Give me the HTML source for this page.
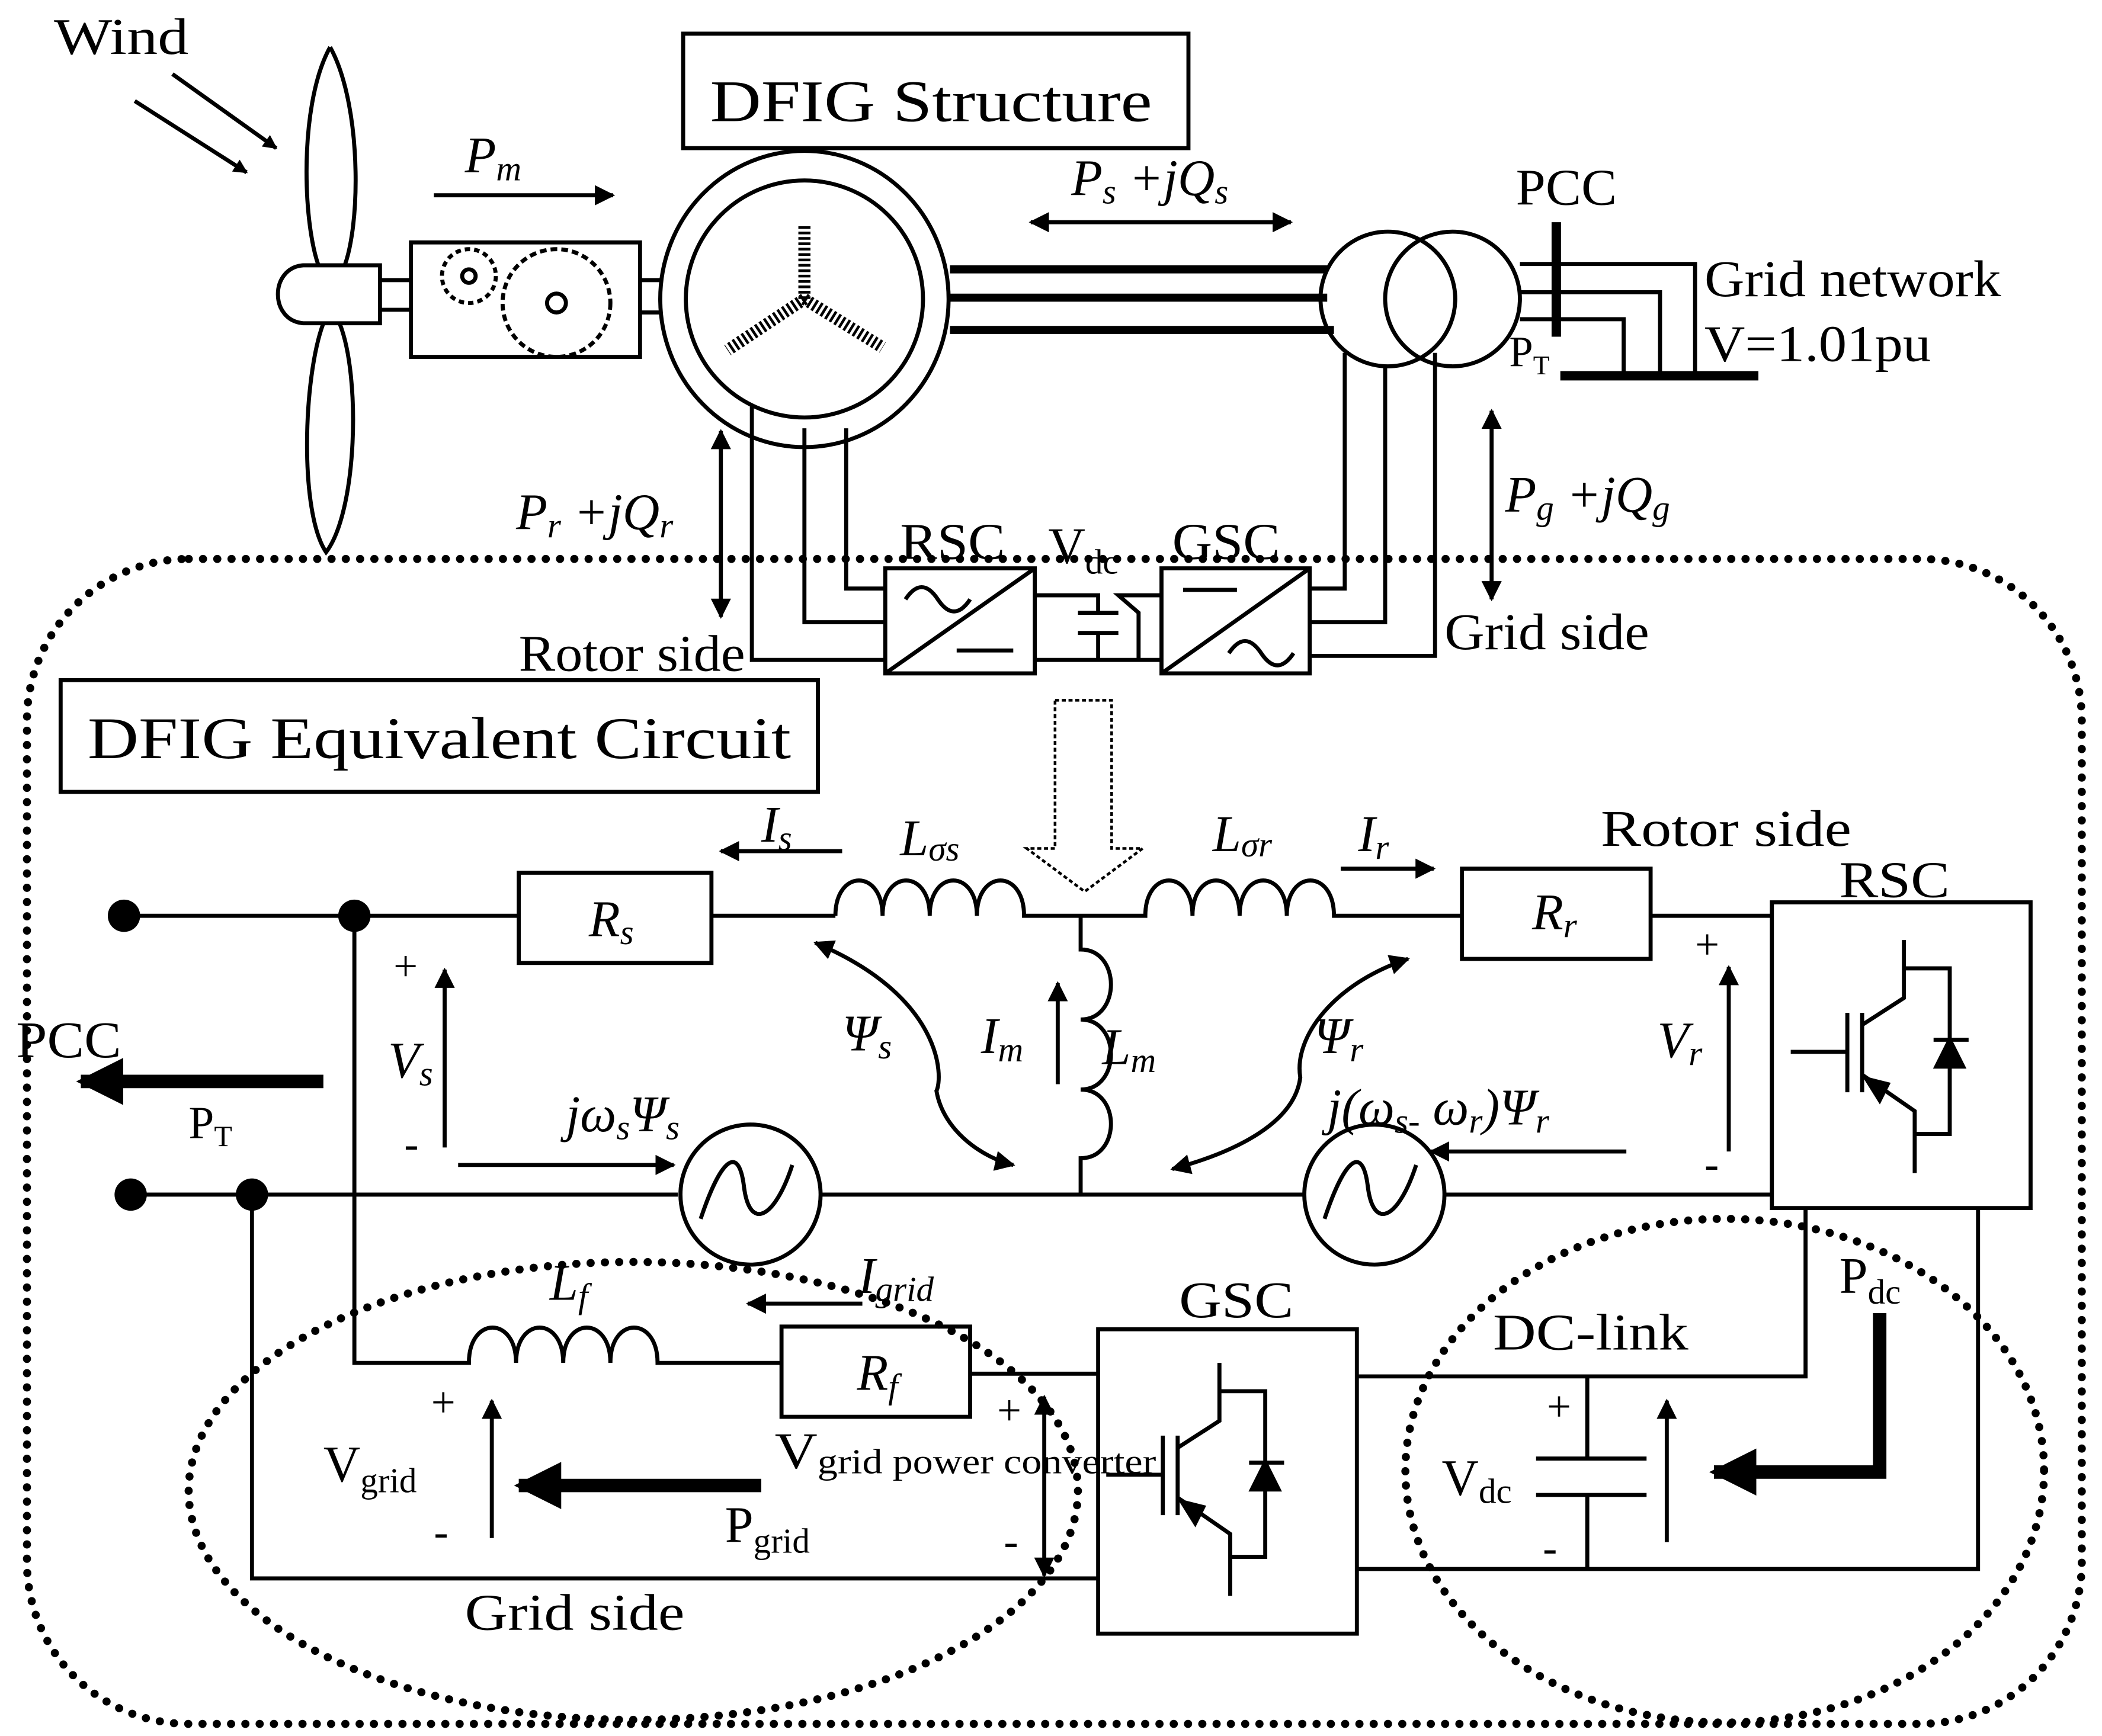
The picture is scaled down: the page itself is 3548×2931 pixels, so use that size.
<!DOCTYPE html>
<html><head><meta charset="utf-8"><style>
html,body{margin:0;padding:0;background:#fff}
svg{display:block}
text{font-family:"Liberation Serif","Times New Roman",serif;fill:#000}
.i{font-style:italic}
</style></head><body>
<svg width="3548" height="2931" viewBox="0 0 1560 1289" preserveAspectRatio="none" xmlns="http://www.w3.org/2000/svg">
<defs>
<marker id="a" viewBox="0 0 10 10" refX="9" refY="5" markerWidth="5" markerHeight="5" orient="auto-start-reverse"><path d="M0,0 L10,5 L0,10 z"/></marker>
<marker id="b" viewBox="0 0 10 10" refX="9" refY="5" markerWidth="3.5" markerHeight="3.5" orient="auto-start-reverse"><path d="M0,0 L10,5 L0,10 z"/></marker>
<g id="igbt" stroke="#000" stroke-width="3" fill="none">
<path d="M-42,0 H0 M0,-29 V30 M11,-29 V30 M11,-20 L42,-40 V-83 M42,-62 H76 V61 H50 M11,17 L50,44 V90 M64,-9 H90"/>
<path d="M66,11 L86,11 L76,-9 z" fill="#000"/>
<path d="M14,20 L30,24 L24,36 z" fill="#000"/>
</g>
</defs>
<g stroke="#000" fill="none" stroke-width="3">
<line x1="128" y1="55" x2="205" y2="110" marker-end="url(#b)"/>
<line x1="100" y1="75" x2="183" y2="128" marker-end="url(#b)"/>
<path d="M245,35 C220,80 225,180 240,205 M245,35 C270,80 268,180 252,205"/>
<path d="M240,240 C225,280 222,380 242,410 C265,380 268,280 252,240"/>
<path d="M225,197 H282 V240 H225 C200,238 200,199 225,197 z" fill="#fff"/>
<path d="M282,208 H305 M282,230 H305"/>
<rect x="305" y="180" width="170" height="85"/>
<circle cx="348" cy="205" r="20" stroke-dasharray="4 3"/><circle cx="348" cy="205" r="5"/>
<circle cx="413" cy="225" r="40" stroke-dasharray="5 3"/><circle cx="413" cy="225" r="7"/>
<path d="M475,208 H490 M475,232 H490"/>
<ellipse cx="597" cy="222" rx="107" ry="110"/>
<circle cx="597" cy="222" r="88"/>
<path d="M597,168 V222 M597,222 L540,260 M597,222 L655,258" stroke-width="9" stroke-dasharray="2 2"/>
<path d="M705,200 H985 M705,221 H985 M705,245 H990" stroke-width="6"/>
<circle cx="1030" cy="222" r="50"/><circle cx="1078" cy="222" r="50"/>
<path d="M1128,196 H1258 V280 M1128,217 H1232 V280 M1128,237 H1205 V280"/>
<path d="M1155,165 V250" stroke-width="7"/>
<path d="M1158,279 H1305" stroke-width="7"/>
<rect x="507" y="25" width="375" height="85"/>
<line x1="322" y1="145" x2="455" y2="145" marker-end="url(#a)"/>
<line x1="765" y1="165" x2="958" y2="165" marker-start="url(#a)" marker-end="url(#a)"/>
<path d="M558,300 V490 H657 M597,318 V462 H657 M628,318 V437 H657"/>
<path d="M998,262 V437 H972 M1028,272 V462 H972 M1065,262 V487 H972"/>
<rect x="657" y="422" width="111" height="78"/><path d="M657,500 L768,422 M672,445 q12,-18 24,0 t24,0 M710,483 H752"/>
<rect x="862" y="422" width="110" height="78"/><path d="M862,500 L972,422 M878,438 H918 M912,485 q12,-18 24,0 t24,0"/>
<path d="M768,442 H815 V455 M815,470 V490 H768 M815,490 H862 M862,442 H830 L845,455 V490 M800,455 H830 M800,470 H830"/>
<line x1="535" y1="320" x2="535" y2="458" marker-start="url(#a)" marker-end="url(#a)"/>
<line x1="1107" y1="305" x2="1107" y2="445" marker-start="url(#a)" marker-end="url(#a)"/>
<rect x="20" y="415" width="1525" height="865" rx="120" stroke-width="6" stroke-dasharray="0.1 10.5" stroke-linecap="round"/>
<rect x="45" y="505" width="562" height="83"/>
<path d="M783,520 H825 V630 H848 L805,662 L762,630 H783 z" stroke-width="2" stroke-dasharray="3 2"/>
<path d="M92,680 H385 M528,680 H620 M620,680 c0,-35 35,-35 35,0 c0,-35 35,-35 35,0 c0,-35 35,-35 35,0 c0,-35 35,-35 35,0 H850 c0,-35 35,-35 35,0 c0,-35 35,-35 35,0 c0,-35 35,-35 35,0 c0,-35 35,-35 35,0 H1085 M1225,680 H1315"/>
<rect x="385" y="648" width="143" height="67"/>
<rect x="1085" y="645" width="140" height="67"/>
<path d="M802,680 V705 c30,0 30,52 0,52 c30,0 30,52 0,52 c30,0 30,51 0,51 V887"/>
<path d="M97,887 H503 M610,887 H967 M1072,887 H1315"/>
<circle cx="557" cy="887" r="52"/><path d="M520,905 C535,860 548,850 552,880 C556,915 575,905 588,865"/>
<circle cx="1020" cy="887" r="52"/><path d="M983,905 C998,860 1011,850 1015,880 C1019,915 1038,905 1051,865"/>
<rect x="1315" y="670" width="192" height="227"/>
<line x1="785" y1="805" x2="785" y2="730" marker-end="url(#a)"/>
<path d="M605,700 C700,740 700,800 695,810 C700,840 730,860 752,865" marker-start="url(#a)" marker-end="url(#a)"/>
<path d="M1045,712 C990,730 960,770 965,800 C960,840 900,860 870,868" marker-start="url(#a)" marker-end="url(#a)"/>
<line x1="625" y1="632" x2="535" y2="632" marker-end="url(#a)"/>
<line x1="995" y1="645" x2="1064" y2="645" marker-end="url(#a)"/>
<line x1="330" y1="852" x2="330" y2="720" marker-end="url(#a)"/>
<line x1="240" y1="803" x2="60" y2="803" stroke-width="10" marker-end="url(#b)"/>
<line x1="340" y1="865" x2="500" y2="865" marker-end="url(#a)"/>
<line x1="1283" y1="855" x2="1283" y2="718" marker-end="url(#a)"/>
<line x1="1207" y1="855" x2="1062" y2="855" marker-end="url(#a)"/>
<use href="#igbt" x="1371" y="781"/>
<path d="M263,680 V1012 H348 c0,-35 35,-35 35,0 c0,-35 35,-35 35,0 c0,-35 35,-35 35,0 c0,-35 35,-35 35,0 H580 M720,1020 H815"/>
<rect x="580" y="985" width="140" height="67"/>
<path d="M187,887 V1172 H815"/>
<rect x="815" y="987" width="192" height="226"/>
<use href="#igbt" x="863" y="1095"/>
<line x1="640" y1="968" x2="555" y2="968" marker-end="url(#a)"/>
<line x1="365" y1="1142" x2="365" y2="1040" marker-end="url(#a)"/>
<line x1="565" y1="1103" x2="385" y2="1103" stroke-width="10" marker-end="url(#b)"/>
<line x1="775" y1="1037" x2="775" y2="1170" marker-start="url(#a)" marker-end="url(#a)"/>
<path d="M1007,1022 H1340 V897 M1007,1165 H1468 V897"/>
<path d="M1178,1022 V1083 M1178,1110 V1165 M1140,1083 H1222 M1140,1110 H1222"/>
<line x1="1237" y1="1145" x2="1237" y2="1040" marker-end="url(#a)"/>
<path d="M1395,975 V1093 H1272" stroke-width="10" marker-end="url(#b)"/>
<ellipse cx="470" cy="1107" rx="330" ry="170" stroke-width="6" stroke-dasharray="0.1 10.5" stroke-linecap="round"/>
<ellipse cx="1280" cy="1092" rx="237" ry="187" stroke-width="6" stroke-dasharray="0.1 10.5" stroke-linecap="round"/>
</g>
<g fill="#000">
<circle cx="92" cy="680" r="12"/><circle cx="263" cy="680" r="12"/>
<circle cx="97" cy="887" r="12"/><circle cx="187" cy="887" r="12"/>
</g>
<g font-size="38">
<text x="40" y="40" textLength="100" lengthAdjust="spacingAndGlyphs">Wind</text>
<text x="527" y="90" font-size="44" textLength="328" lengthAdjust="spacingAndGlyphs">DFIG Structure</text>
<text x="345" y="128" class="i">P<tspan font-size="26" dy="6">m</tspan></text>
<text x="795" y="145" class="i">P<tspan font-size="26" dy="6">s</tspan><tspan dy="-6"> +jQ</tspan><tspan font-size="26" dy="6">s</tspan></text>
<text x="1125" y="152" textLength="75" lengthAdjust="spacingAndGlyphs">PCC</text>
<text x="1265" y="220" textLength="220" lengthAdjust="spacingAndGlyphs">Grid network</text>
<text x="1265" y="268" textLength="168" lengthAdjust="spacingAndGlyphs">V=1.01pu</text>
<text x="1120" y="272" font-size="32">P<tspan font-size="20" dy="6">T</tspan></text>
<text x="383" y="393" class="i">P<tspan font-size="26" dy="6">r</tspan><tspan dy="-6"> +jQ</tspan><tspan font-size="26" dy="6">r</tspan></text>
<text x="1117" y="380" class="i">P<tspan font-size="26" dy="6">g</tspan><tspan dy="-6"> +jQ</tspan><tspan font-size="26" dy="6">g</tspan></text>
<text x="668" y="415" textLength="78" lengthAdjust="spacingAndGlyphs">RSC</text>
<text x="778" y="418">V<tspan font-size="26" dy="8">dc</tspan></text>
<text x="870" y="415" textLength="80" lengthAdjust="spacingAndGlyphs">GSC</text>
<text x="385" y="498" textLength="168" lengthAdjust="spacingAndGlyphs">Rotor side</text>
<text x="1072" y="482" textLength="152" lengthAdjust="spacingAndGlyphs">Grid side</text>
<text x="65" y="563" font-size="44" textLength="522" lengthAdjust="spacingAndGlyphs">DFIG Equivalent Circuit</text>
<text x="565" y="625" class="i">I<tspan font-size="26" dy="6">s</tspan></text>
<text x="668" y="635" class="i">L<tspan font-size="26" dy="4">σs</tspan></text>
<text x="900" y="632" class="i">L<tspan font-size="26" dy="4">σr</tspan></text>
<text x="1008" y="632" class="i">I<tspan font-size="26" dy="6">r</tspan></text>
<text x="1188" y="628" textLength="186" lengthAdjust="spacingAndGlyphs">Rotor side</text>
<text x="1365" y="666" textLength="82" lengthAdjust="spacingAndGlyphs">RSC</text>
<text x="437" y="695" class="i">R<tspan font-size="26" dy="6">s</tspan></text>
<text x="1137" y="690" class="i">R<tspan font-size="26" dy="6">r</tspan></text>
<text x="292" y="728" font-size="32">+</text>
<text x="1258" y="712" font-size="32">+</text>
<text x="625" y="780" class="i">Ψ<tspan font-size="26" dy="6">s</tspan></text>
<text x="728" y="782" class="i">I<tspan font-size="26" dy="6">m</tspan></text>
<text x="818" y="790" class="i">L<tspan font-size="26" dy="6">m</tspan></text>
<text x="975" y="782" class="i">Ψ<tspan font-size="26" dy="6">r</tspan></text>
<text x="1230" y="785" class="i">V<tspan font-size="26" dy="6">r</tspan></text>
<text x="288" y="800" class="i">V<tspan font-size="26" dy="6">s</tspan></text>
<text x="12" y="785" textLength="78" lengthAdjust="spacingAndGlyphs">PCC</text>
<text x="140" y="845" font-size="34">P<tspan font-size="22" dy="6">T</tspan></text>
<text x="300" y="860" font-size="32">-</text>
<text x="1265" y="875" font-size="32">-</text>
<text x="420" y="840" class="i">jω<tspan font-size="26" dy="6">s</tspan><tspan dy="-6">Ψ</tspan><tspan font-size="26" dy="6">s</tspan></text>
<text x="985" y="835" class="i">j(ω<tspan font-size="26" dy="6">s-</tspan><tspan dy="-6"> ω</tspan><tspan font-size="26" dy="6">r</tspan><tspan dy="-6">)Ψ</tspan><tspan font-size="26" dy="6">r</tspan></text>
<text x="408" y="965" class="i">L<tspan font-size="26" dy="6">f</tspan></text>
<text x="637" y="960" class="i">I<tspan font-size="26" dy="6">grid</tspan></text>
<text x="875" y="978" textLength="85" lengthAdjust="spacingAndGlyphs">GSC</text>
<text x="1108" y="1002" textLength="145" lengthAdjust="spacingAndGlyphs">DC-link</text>
<text x="1365" y="960">P<tspan font-size="26" dy="8">dc</tspan></text>
<text x="636" y="1032" class="i">R<tspan font-size="26" dy="6">f</tspan></text>
<text x="320" y="1052" font-size="32">+</text>
<text x="740" y="1058" font-size="32">+</text>
<text x="1148" y="1055" font-size="32">+</text>
<text x="575" y="1090" textLength="283" lengthAdjust="spacingAndGlyphs">V<tspan font-size="26" dy="4">grid power converter</tspan></text>
<text x="240" y="1100">V<tspan font-size="26" dy="8">grid</tspan></text>
<text x="1070" y="1110">V<tspan font-size="26" dy="6">dc</tspan></text>
<text x="322" y="1148" font-size="32">-</text>
<text x="745" y="1155" font-size="32">-</text>
<text x="1145" y="1160" font-size="32">-</text>
<text x="538" y="1145">P<tspan font-size="26" dy="8">grid</tspan></text>
<text x="345" y="1210" textLength="163" lengthAdjust="spacingAndGlyphs">Grid side</text>
</g>
</svg>
</body></html>
